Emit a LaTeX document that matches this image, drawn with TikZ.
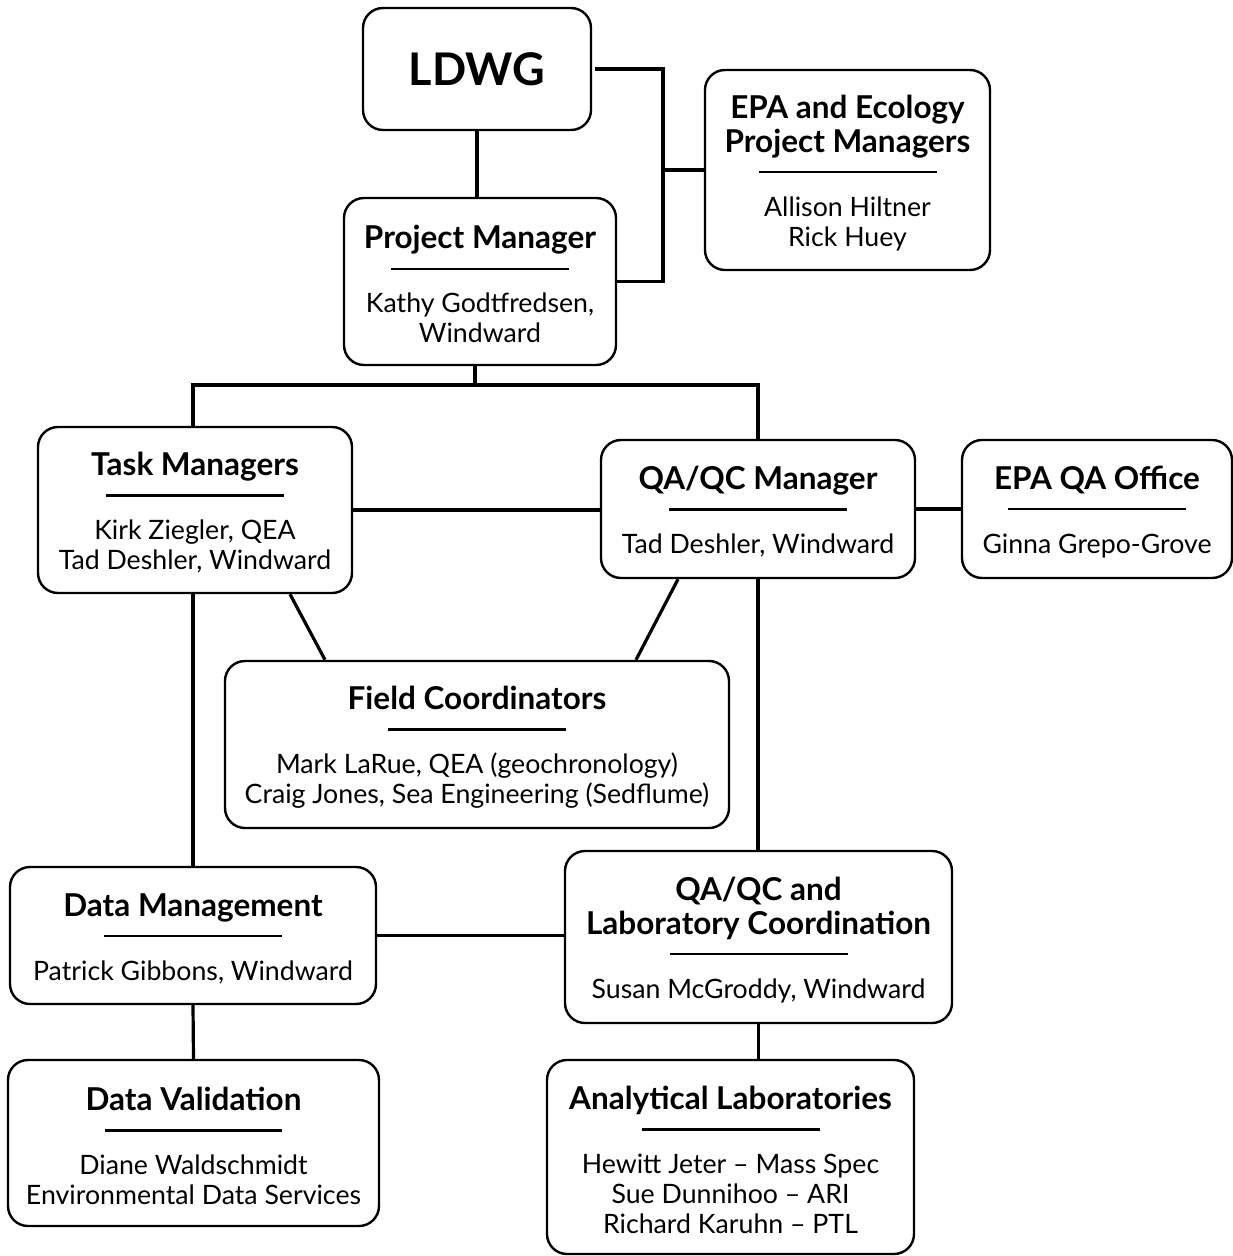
\documentclass[tikz,border=0pt]{standalone}
\usepackage{fontspec}
\setmainfont{Lato}
\newcommand\bodyf{\fontsize{26.7}{30}\selectfont}
\newcommand\ttl[1]{{\fontsize{31.5}{34}\selectfont\bfseries #1}}
\newcommand\ttlS[1]{{\fontsize{31.5}{34}\selectfont\bfseries\rule{0pt}{29pt}#1}}
\newcommand\hr{\rule[8.8pt]{178pt}{2.4pt}}
\begin{document}
\begin{tikzpicture}[x=1pt,y=-1pt,
  box/.style={draw, line width=2.4pt, rounded corners=20pt, align=center, inner sep=0pt, font=\bodyf},
  conn/.style={line width=3.2pt}]
\useasboundingbox (0,0) rectangle (1233,1256);

\node[box, minimum width=228, minimum height=122] (ldwg) at (477,69) {{\fontsize{45}{50}\selectfont\bfseries LDWG}};
\node[box, minimum width=285, minimum height=200] (epa) at (847.5,170) {\ttlS{EPA and Ecology}\\[4pt]\ttl{Project Managers}\\\hr\\[4pt]Allison Hiltner\\Rick Huey};
\node[box, minimum width=272, minimum height=167] (pm) at (480,281.5) {\ttlS{Project Manager}\\\hr\\[4pt]Kathy Godtfredsen,\\Windward};
\node[box, minimum width=314, minimum height=166] (tm) at (195,510) {\ttlS{Task Managers}\\\hr\\[4pt]Kirk Ziegler, QEA\\Tad Deshler, Windward};
\node[box, minimum width=314, minimum height=138] (qm) at (758,509) {\ttlS{QA/QC Manager}\\\hr\\[4pt]Tad Deshler, Windward};
\node[box, minimum width=270, minimum height=138] (eqa) at (1097,509) {\ttlS{EPA QA Office}\\\hr\\[4pt]Ginna Grepo-Grove};
\node[box, minimum width=504, minimum height=167] (fc) at (477,744.5) {\ttlS{Field Coordinators}\\\hr\\[4pt]Mark LaRue, QEA (geochronology)\\Craig Jones, Sea Engineering (Sedflume)};
\node[box, minimum width=366, minimum height=137] (dm) at (193,935.5) {\ttlS{Data Management}\\\hr\\[4pt]Patrick Gibbons, Windward};
\node[box, minimum width=387, minimum height=172] (ql) at (758.5,937) {\ttlS{QA/QC and}\\[4pt]\ttl{Laboratory Coordination}\\\hr\\[4pt]Susan McGroddy, Windward};
\node[box, minimum width=371, minimum height=166] (dv) at (193.5,1143) {\ttlS{Data Validation}\\\hr\\[4pt]Diane Waldschmidt\\Environmental Data Services};
\node[box, minimum width=367, minimum height=194] (al) at (730.5,1157) {\ttlS{Analytical Laboratories}\\\hr\\[4pt]Hewitt Jeter -- Mass Spec\\Sue Dunnihoo -- ARI\\Richard Karuhn -- PTL};

\coordinate (jr) at (663,0);
\coordinate (bus) at (0,385);

\draw[conn] (ldwg.south -| 477,0) -- (pm.north -| 477,0);
\draw[conn] ([xshift=3pt]ldwg.east) -| (jr |- pm.east) -- (pm.east);
\draw[conn] (jr |- epa.west) -- (epa.west);
\draw[conn] (pm.south -| 475,0) -- (bus -| 475,0);
\draw[conn] (dm.north |- tm.north) -- (dm.north |- bus) -| (qm.north);
\draw[conn] (tm.east) -- (tm.east -| qm.west);
\draw[conn] (qm.east) -- (eqa.west);
\draw[conn] ([xshift=95pt]tm.south) -- ([xshift=-152pt]fc.north);
\draw[conn] ([xshift=-80pt]qm.south) -- ([xshift=159pt]fc.north);
\draw[conn] (dm.north |- tm.south) -- (dm.north);
\draw[conn] (qm.south) -- (qm.south |- ql.north);
\draw[conn] (dm.east) -- (dm.east -| ql.west);
\draw[conn] (dm.south) -- (dv.north);
\draw[conn] (ql.south) -- (ql.south |- al.north);
\end{tikzpicture}
\end{document}
